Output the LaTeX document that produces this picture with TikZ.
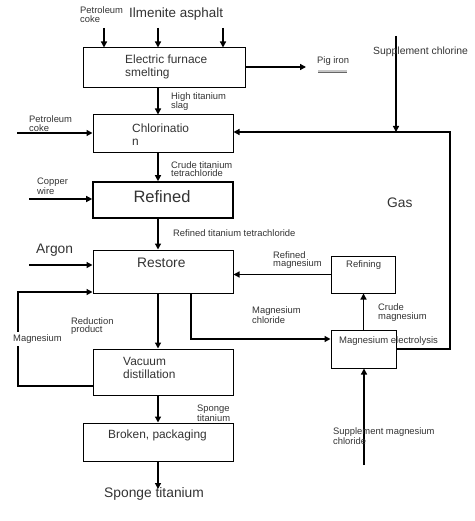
\documentclass[tikz,border=0pt]{standalone}
\usepackage{fontspec}
\setmainfont{Liberation Sans}
\usetikzlibrary{arrows.meta,calc}
\definecolor{txtc}{HTML}{333333}
\begin{document}
\begin{tikzpicture}[x=1pt,y=-1pt,
  box/.style={draw=black,line width=1pt,inner sep=0pt},
  arr/.style={line width=1.3pt,-{Triangle[length=6pt,width=6pt]}},
  lbl/.style={inner sep=0pt,anchor=west,align=left,text=txtc},
  tsmall/.style={lbl,font=\fontsize{9.4}{8.6}\selectfont},
  tmid/.style={lbl,font=\fontsize{11.9}{12.5}\selectfont},
  tbig/.style={lbl,font=\fontsize{13.8}{15}\selectfont}]
\useasboundingbox (0,0) rectangle (474,521);

% boxes
\node[box,minimum width=162pt,minimum height=40pt] (ef) at (164,68) {};
\node[box,minimum width=140pt,minimum height=38pt] (ch) at (163,134) {};
\node[box,line width=1.6pt,minimum width=140pt,minimum height=36pt] (rf) at (163,200) {};
\node[box,minimum width=140pt,minimum height=43pt] (rs) at (163,271.5) {};
\node[box,minimum width=140pt,minimum height=46pt] (vd) at (163,372) {};
\node[box,minimum width=150pt,minimum height=38pt] (bp) at (158,442) {};
\node[box,minimum width=64pt,minimum height=37pt] (rg) at (363,274.5) {};
\node[box,minimum width=65pt,minimum height=38pt] (me) at (363.5,349) {};

% coordinates for free ends
\coordinate (mx) at (158,0);
\coordinate (in1) at (104,28);
\coordinate (in2) at (158,28);
\coordinate (in3) at (223,28);
\coordinate (pig) at (306,67);
\coordinate (sc) at (396,36);
\coordinate (gasTop) at (450,132);
\coordinate (pc) at (17,133);
\coordinate (cw) at (29,199);
\coordinate (ar) at (29,265);
\coordinate (mgL) at (18,386);
\coordinate (mgT) at (18,292);
\coordinate (rc) at (191,339);
\coordinate (sm) at (364,465);
\coordinate (st) at (158,489);
\coordinate (ulA) at (318,72);
\coordinate (ulB) at (347,72);

% connectors
\draw[arr] (in1) -- (in1 |- ef.north);
\draw[arr] (in2) -- (in2 |- ef.north);
\draw[arr] (in3) -- (in3 |- ef.north);
\draw[arr] (ef.east |- pig) -- (pig);
\draw[arr] (ef.south -| mx) -- (ch.north -| mx);
\draw[arr] (ch.south -| mx) -- (rf.north -| mx);
\draw[arr] (rf.south -| mx) -- (rs.north -| mx);
\draw[arr] (rs.south -| mx) -- (vd.north -| mx);
\draw[arr] (vd.south -| mx) -- (bp.north -| mx);
\draw[arr] (bp.south -| mx) -- (st);
\draw[arr] (sc) -- (sc |- gasTop);
\draw[arr] (me.east) -- (me.east -| gasTop) -- (gasTop) -- (ch.east |- gasTop);
\draw[arr] (pc) -- (pc -| ch.west);
\draw[arr] (cw) -- (cw -| rf.west);
\draw[arr] (ar) -- (ar -| rs.west);
\draw[arr] (vd.west |- mgL) -- (mgL) -- (mgT) -- (mgT -| rs.west);
\draw[arr] (rc |- rs.south) -- (rc) -- (rc -| me.west);
\draw[arr] (rg.west) -- (rg.west -| rs.east);
\draw[arr] (me.north) -- (me.north |- rg.south);
\draw[arr] (sm) -- (sm |- me.south);

% box texts
\node[tmid] (efT) at (125,67) {Electric furnace\\smelting};
\node[tmid] (chT) at (132,134.5) {Chlorinatio\\n};
\node[lbl,anchor=center,font=\fontsize{16.5}{18}\selectfont] (rfT) at (162,197) {Refined};
\node[tbig] (rsT) at (137,263) {Restore};
\node[tmid] (vdT) at (123,368) {Vacuum\\distillation};
\node[tmid] (bpT) at (108,435) {Broken, packaging};
\node[lbl,font=\fontsize{9.5}{10}\selectfont] (rgT) at (346,265) {Refining};
\node[lbl,font=\fontsize{9.5}{10}\selectfont] (meT) at (339,341) {Magnesium electrolysis};

% labels
\node[tsmall] (pc1) at (80,14.5) {Petroleum\\coke};
\node[lbl,font=\fontsize{13.4}{15}\selectfont] (ilm) at (129,14) {Ilmenite asphalt};
\node[tsmall] (pigT) at (317,61) {Pig iron};
\draw[gray!45,line width=3pt] (ulA) -- (ulB);
\draw[gray!80!black,line width=0.8pt] (ulA) -- (ulB);
\node[lbl,font=\fontsize{10.4}{11}\selectfont] (scT) at (373,52) {Supplement chlorine};
\node[tsmall] (hts) at (171,101.5) {High titanium\\slag};
\node[tsmall] (pc2) at (29,123.5) {Petroleum\\coke};
\node[tsmall] (ctt) at (171,169) {Crude titanium\\tetrachloride};
\node[tsmall] (cwT) at (37,186.5) {Copper\\wire};
\node[tsmall] (rtt) at (173,233) {Refined titanium tetrachloride};
\node[tbig] (arT) at (36,250) {Argon};
\node[tbig] (gasT) at (387,203) {Gas};
\node[tsmall] (rmg) at (273,260) {Refined\\magnesium};
\node[tsmall] (cmg) at (378,312.5) {Crude\\magnesium};
\node[tsmall] (mgc) at (252,315.5) {Magnesium\\chloride};
\node[tsmall,fill=white,inner ysep=3pt] (mgT2) at (13,339) {Magnesium};
\node[tsmall] (rp) at (71,326) {Reduction\\product};
\node[tsmall] (spT) at (197,413.5) {Sponge\\titanium};
\node[tsmall] (smc) at (333,436) {Supplement magnesium\\chloride};
\node[tbig] (spOut) at (104,494) {Sponge titanium};
\end{tikzpicture}
\end{document}
